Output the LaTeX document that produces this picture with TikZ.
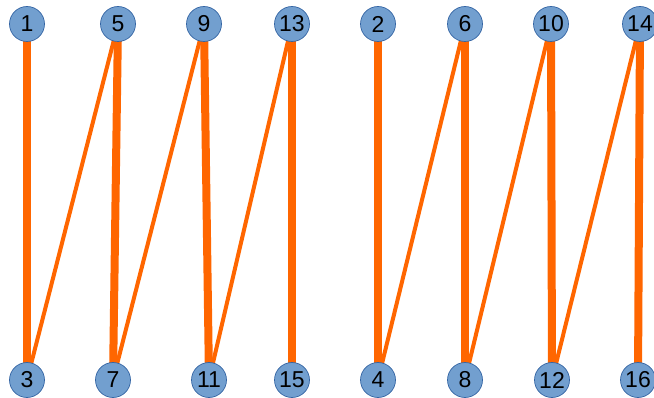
\documentclass[tikz,border=0pt]{standalone}
\usepackage{fontspec}
\setmainfont{Liberation Sans}
\usetikzlibrary{backgrounds}
\definecolor{nodefill}{HTML}{729FCF}
\definecolor{nodeline}{HTML}{3465A4}
\definecolor{edgeor}{HTML}{FF6600}
\begin{document}
\begin{tikzpicture}[x=1pt,y=-1pt,
  vtx/.style={circle,fill=nodefill,draw=nodeline,line width=0.7pt,minimum size=35pt,inner sep=0pt,font=\fontsize{23}{23}\selectfont},
  thickedge/.style={draw=edgeor,line width=8pt},
  thinedge/.style={draw=edgeor,line width=4pt}]
\useasboundingbox (0,0) rectangle (654,398);
% nodes
\node[vtx] (n1) at (27,24) {1};
\node[vtx] (n5) at (118,24) {5};
\node[vtx] (n9) at (204,24) {9};
\node[vtx] (n13) at (292,24) {13};
\node[vtx] (n2) at (378,24) {2};
\node[vtx] (n6) at (465,24) {6};
\node[vtx] (n10) at (551,24) {10};
\node[vtx] (n14) at (640,24) {14};
\node[vtx] (n3) at (27,380) {3};
\node[vtx] (n7) at (113,380) {7};
\node[vtx] (n11) at (209,380) {11};
\node[vtx] (n15) at (292,380) {15};
\node[vtx] (n4) at (378,380) {4};
\node[vtx] (n8) at (465,380) {8};
\node[vtx] (n12) at (552,380) {12};
\node[vtx] (n16) at (638,380) {16};
% edges
\begin{scope}[on background layer]
\draw[thickedge] (n1.center) -- (n3.center);
\draw[thickedge] (n5.center) -- (n7.center);
\draw[thickedge] (n9.center) -- (n11.center);
\draw[thickedge] (n13.center) -- (n15.center);
\draw[thickedge] (n2.center) -- (n4.center);
\draw[thickedge] (n6.center) -- (n8.center);
\draw[thickedge] (n10.center) -- (n12.center);
\draw[thickedge] (n14.center) -- (n16.center);
\draw[thinedge] (n3.center) -- (n5.center);
\draw[thinedge] (n7.center) -- (n9.center);
\draw[thinedge] (n11.center) -- (n13.center);
\draw[thinedge] (n4.center) -- (n6.center);
\draw[thinedge] (n8.center) -- (n10.center);
\draw[thinedge] (n12.center) -- (n14.center);
\end{scope}
\end{tikzpicture}
\end{document}
